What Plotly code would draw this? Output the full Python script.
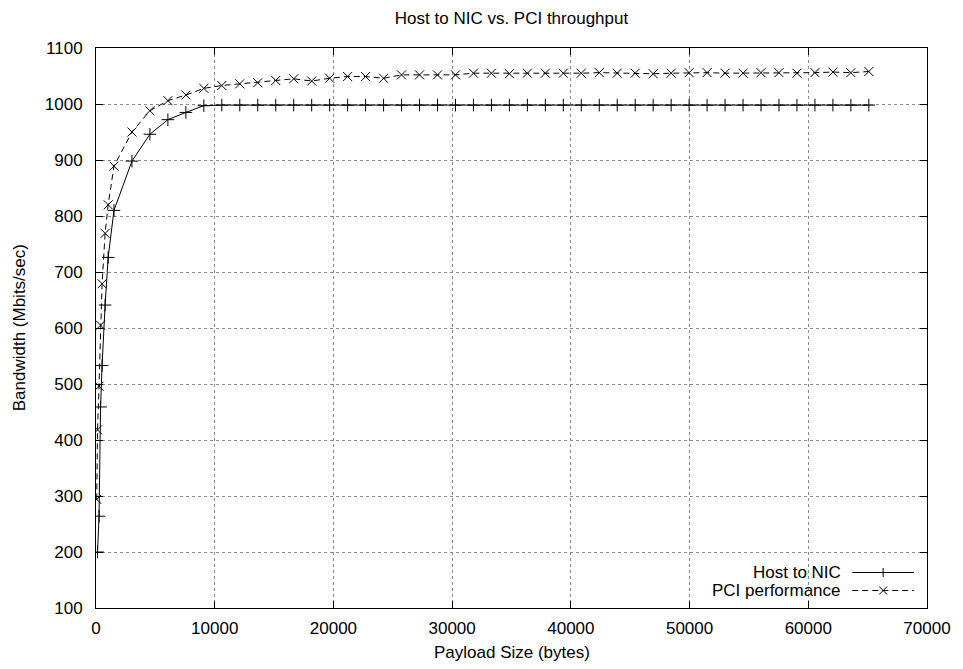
import plotly.graph_objects as go

# ---- data ----
frame = 1514
plateau_k = list(range(1, 44))

host_x = [128, 256, 384, 512, 768, 1024] + [frame * k for k in plateau_k]
host_y = [200, 264, 459, 533, 641, 726,
          810, 898, 946, 972, 985, 997] + [998] * 37

pci_x = [64, 128, 256, 384, 512, 768, 1024] + [frame * k for k in plateau_k]
pci_y = [294, 418, 496, 605, 679, 769, 820,
         889, 950, 988, 1006, 1016, 1028, 1033, 1036, 1038, 1042,
         1045, 1041, 1046, 1049, 1049, 1046, 1052, 1052, 1052, 1052,
         1055, 1055, 1054, 1055, 1055, 1055, 1055, 1056, 1055,
         1055, 1054, 1055, 1056, 1056, 1055, 1055, 1056, 1056, 1055,
         1056, 1057, 1056, 1058, 1058]

x_ticks = [0, 10000, 20000, 30000, 40000, 50000, 60000, 70000]
y_ticks = [100, 200, 300, 400, 500, 600, 700, 800, 900, 1000, 1100]

title_text = "Host to NIC vs. PCI throughput"
x_title = "Payload Size (bytes)"
y_title = "Bandwidth (Mbits/sec)"
series_names = ["Host to NIC", "PCI performance"]

FONT = "Liberation Sans, Arial, sans-serif"
FS = 17
W, H = 963, 669
ML, MR, MT, MB = 96, 33, 48, 61
PW, PH = W - ML - MR, H - MT - MB


def px(xp):
    return (xp - ML) / PW


def py(yp):
    return (MT + PH - yp) / PH


fig = go.Figure()
fig.add_trace(go.Scatter(
    x=host_x, y=host_y[:len(host_x)], mode="lines+markers", name=series_names[0],
    line=dict(color="black", width=1),
    marker=dict(symbol="cross-thin-open", size=9, line=dict(color="black", width=1)),
    showlegend=False))
fig.add_trace(go.Scatter(
    x=pci_x, y=pci_y[:len(pci_x)], mode="lines+markers", name=series_names[1],
    line=dict(color="black", width=1, dash="6px,4px"),
    marker=dict(symbol="x-thin-open", size=9, line=dict(color="black", width=1)),
    showlegend=False))

axis_common = dict(
    showline=True, linecolor="black", linewidth=1, mirror="ticks",
    ticks="inside", ticklen=7, tickcolor="black", tickwidth=1,
    showgrid=True, gridcolor="#8a8a8a", gridwidth=1, griddash="dot",
    zeroline=False, tickfont=dict(family=FONT, size=FS, color="black"),
)

fig.update_xaxes(range=[0, 70000], tickvals=x_ticks,
                 ticktext=[str(v) for v in x_ticks], ticklabelstandoff=5,
                 **axis_common)
fig.update_yaxes(range=[100, 1100], tickvals=y_ticks,
                 ticktext=[str(v) for v in y_ticks], ticklabelstandoff=9,
                 **axis_common)

shapes = []
# white key background (hides grid behind the key)
shapes.append(dict(type="rect", xref="paper", yref="paper",
                   x0=px(695), x1=px(925), y0=py(599), y1=py(561),
                   fillcolor="white", line=dict(width=0), layer="between"))

key_rows = [(572.5, "solid", "plus"), (590.5, "6px,4px", "x")]
annotations = []
for (yy, dash, mk), name in zip(key_rows, series_names):
    shapes.append(dict(type="line", xref="paper", yref="paper",
                       x0=px(855), x1=px(917), y0=py(yy), y1=py(yy),
                       line=dict(color="black", width=1, dash=dash)))
    cx = 886
    if mk == "plus":
        shapes.append(dict(type="line", xref="paper", yref="paper",
                           x0=px(cx), x1=px(cx), y0=py(yy - 4.5), y1=py(yy + 4.5),
                           line=dict(color="black", width=1)))
    else:
        shapes.append(dict(type="line", xref="paper", yref="paper",
                           x0=px(cx - 4), x1=px(cx + 4), y0=py(yy - 4), y1=py(yy + 4),
                           line=dict(color="black", width=1)))
        shapes.append(dict(type="line", xref="paper", yref="paper",
                           x0=px(cx - 4), x1=px(cx + 4), y0=py(yy + 4), y1=py(yy - 4),
                           line=dict(color="black", width=1)))
    annotations.append(dict(text=name, xref="paper", yref="paper",
                            x=px(846), y=py(yy), xanchor="right", yanchor="middle",
                            showarrow=False,
                            font=dict(family=FONT, size=FS, color="black")))

annotations.append(dict(text=x_title, xref="paper", yref="paper",
                        x=0.5, y=py(652), xanchor="center", yanchor="middle",
                        showarrow=False, font=dict(family=FONT, size=FS, color="black")))
annotations.append(dict(text=y_title, xref="paper", yref="paper",
                        x=px(19), y=0.5, xanchor="center", yanchor="middle",
                        textangle=-90, showarrow=False,
                        font=dict(family=FONT, size=FS, color="black")))

fig.update_layout(
    width=W, height=H,
    margin=dict(l=ML, r=MR, t=MT, b=MB),
    paper_bgcolor="white", plot_bgcolor="white",
    title=dict(text=title_text, x=0.5, xref="paper", xanchor="center",
               y=1 - 18 / H, yref="container", yanchor="middle",
               font=dict(family=FONT, size=FS, color="black")),
    shapes=shapes, annotations=annotations,
    showlegend=False,
)

fig.write_html("out.html")
